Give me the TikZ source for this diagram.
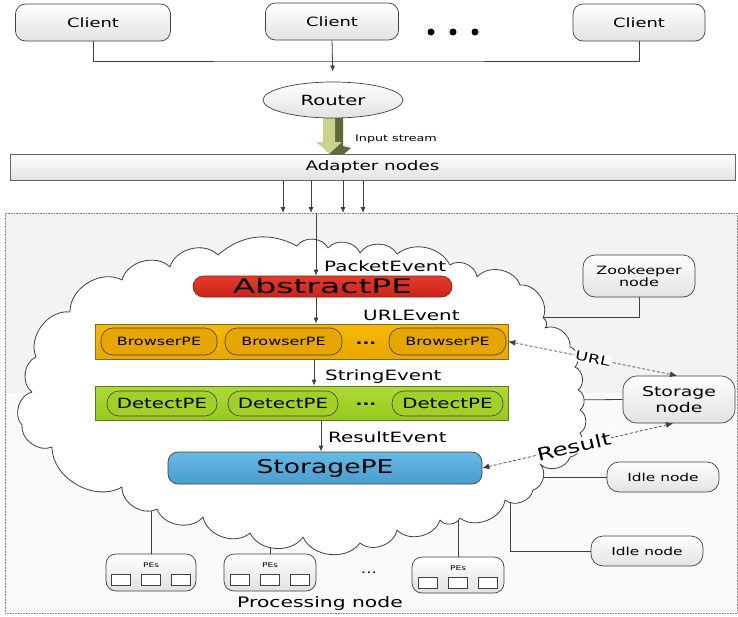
\documentclass[tikz,border=0pt]{standalone}
\usepackage{fontspec}
\setmainfont{DejaVu Sans}[FakeStretch=1.4]
\usetikzlibrary{arrows.meta,shapes.geometric,calc}
\definecolor{edge}{HTML}{404040}
\definecolor{boxbot}{HTML}{E2E2E2}
\definecolor{bggray}{HTML}{F3F3F3}
\definecolor{bglight}{HTML}{FAFAFA}
\definecolor{redtop}{HTML}{E23C2E}
\definecolor{redbot}{HTML}{CB2416}
\definecolor{redline}{HTML}{8A1C12}
\definecolor{ortop}{HTML}{F6B900}
\definecolor{orbot}{HTML}{E9A600}
\definecolor{orin}{HTML}{E7A500}
\definecolor{orline}{HTML}{7D6A3A}
\definecolor{grtop}{HTML}{AEDA36}
\definecolor{grbot}{HTML}{99C920}
\definecolor{grin}{HTML}{A2CF28}
\definecolor{grline}{HTML}{5A7A20}
\definecolor{bltop}{HTML}{68B9E5}
\definecolor{blbot}{HTML}{4A9CCE}
\definecolor{arrlight}{HTML}{C9D18C}
\definecolor{arrdark}{HTML}{5C6A39}
\newcommand{\fsz}[2]{\fontsize{#1}{#2}\selectfont}
\begin{document}
\begin{tikzpicture}[x=1pt,y=1pt,
  box/.style={draw=edge, line width=0.7pt, rounded corners=10pt, top color=white, bottom color=boxbot, inner sep=0pt, align=center},
  arr/.style={draw=edge, line width=0.8pt, -{Latex[length=6pt,width=5pt]}},
  conn/.style={draw=edge, line width=0.8pt},
  dasharr/.style={draw=edge, line width=0.7pt, densely dashed, {Latex[length=7pt,width=6pt]}-{Latex[length=7pt,width=6pt]}},
  lbl/.style={inner sep=0pt, anchor=west},
  pill/.style={draw=edge, line width=0.6pt, rounded corners=12pt, inner sep=0pt}
]
\fill[white] (0,0) rectangle (738,-616);
\useasboundingbox (0,0) rectangle (738,-616);

% background dotted area
\fill[bggray] (5,-213) rectangle (737,-393);
\fill[bglight] (5,-393) rectangle (737,-613);
\draw[gray, densely dotted, line width=0.6pt] (5,-213) rectangle (737,-613);

% input stream 3D arrow
\fill[arrdark] (323,-108) -- (335,-108) -- (343,-114) -- (343,-146) -- (351,-148) -- (337,-160) -- (325,-149) -- (317,-142) -- (323,-142) -- cycle;
\fill[arrlight] (323,-108) -- (335,-108) -- (335,-142) -- (342,-142) -- (329,-154) -- (317,-142) -- (323,-142) -- cycle;

% top nodes
\node[box, minimum width=155pt, minimum height=37pt, font=\fsz{12.8}{15}] (c1) at (93,-22.5) {Client};
\node[box, minimum width=133pt, minimum height=37pt, font=\fsz{12.8}{15}] (c2) at (332,-21.5) {Client};
\node[box, minimum width=132pt, minimum height=37pt, font=\fsz{12.8}{15}] (c3) at (639,-22.5) {Client};
\fill[black] (431,-32) circle (3.5) (453,-32) circle (3.5) (475,-32) circle (3.5);
\node[ellipse, draw=edge, line width=0.7pt, top color=white, bottom color=boxbot, minimum width=140pt, minimum height=36pt, inner sep=0pt, font=\fsz{14}{16}] (router) at (333,-100) {Router};
\node[draw=edge!80, line width=0.6pt, top color=white, bottom color=boxbot, minimum width=725pt, minimum height=26pt, inner sep=0pt, font=\fsz{13.1}{15}] (adapter) at (372.5,-167) {Adapter nodes};
\node[lbl, font=\fsz{9.1}{11}] (instream) at (355,-139) {Input stream};

\coordinate (jn) at (332,-61);
\draw[conn] (c1.south) |- (jn) -| (c3.south);
\draw[arr, shorten >=10pt] (c2.south) -- (router.north);
\foreach \x in {283,311,343,363} {
  \coordinate (t\x) at (\x,-213);
  \draw[arr] (adapter.south -| t\x) -- (t\x);
}

% outer nodes
\node[box, rounded corners=12pt, minimum width=112pt, minimum height=42pt, font=\fsz{11.4}{12.5}] (zk) at (639,-276) {Zookeeper\\node};
\node[box, rounded corners=14pt, minimum width=112pt, minimum height=47pt, font=\fsz{13.5}{16}] (sn) at (679,-399.5) {Storage\\node};
\node[box, rounded corners=12pt, minimum width=112pt, minimum height=30pt, font=\fsz{11}{13}] (idle1) at (663,-477) {Idle node};
\node[box, rounded corners=12pt, minimum width=112pt, minimum height=30pt, font=\fsz{11}{13}] (idle2) at (647,-551) {Idle node};
\node[box, minimum width=90pt, minimum height=37pt] (pes1) at (151,-572.5) {};
\node[box, minimum width=92pt, minimum height=37pt] (pes2) at (270,-572.5) {};
\node[box, minimum width=92pt, minimum height=36pt] (pes3) at (458,-575) {};
\foreach \p in {pes1,pes2,pes3} {
  \node[font=\fsz{6.5}{7}, inner sep=0pt] (\p-l) at ($(\p.center)+(0,7)$) {PEs};
  \foreach \dx in {-30,0,30}
    \draw[edge, line width=0.6pt, fill=white] ($(\p.center)+(\dx-9.5,-2)$) rectangle ++(19,-11);
}
\node[font=\fsz{12}{13}] (pdots) at (369,-573) {...};
\node[font=\fsz{14.5}{16}] (proc) at (320,-603) {Processing node};

% connectors into the cloud (drawn under it)
\coordinate (zkend) at (525,-317);
\draw[conn] (zk.south) |- (zkend);
\coordinate (snend) at (560,-400);
\draw[conn] (sn.west) -- (snend);
\coordinate (i1end) at (525,-477);
\draw[conn] (idle1.west) -- (i1end);
\coordinate (i2end) at (510,-490);
\draw[conn] (idle2.west) -| (i2end);
\coordinate (p1end) at (151,-495);
\draw[conn] (pes1.north) -- (p1end);
\coordinate (p2end) at (270,-530);
\draw[conn] (pes2.north) -- (p2end);
\coordinate (p3end) at (458,-505);
\draw[conn] (pes3.north) -- (p3end);

% cloud
\draw[edge, line width=0.8pt, fill=white, line join=round]
 (157,-509) to[bend left=60] (122,-487) to[bend left=60] (52,-447) to[bend left=60] (22,-425)
 to[bend left=60] (32,-392) to[bend left=60] (36,-357) to[bend left=60] (70,-312)
 to[bend left=60] (122,-280) to[bend left=60] (170,-267) to[bend left=60] (218,-255)
 to[bend left=35] (297,-246) to[bend left=60] (328,-248) to[bend left=60] (360,-253)
 to[bend left=60] (397,-254) to[bend left=50] (450,-265) to[bend left=60] (477,-277)
 to[bend left=60] (520,-285) to[bend left=60] (543,-318) to[bend left=60] (545,-328)
 to[bend left=60] (570,-347) to[bend left=60] (575,-367) to[bend left=60] (578,-390)
 to[bend left=60] (580,-410) to[bend left=60] (580,-433) to[bend left=60] (570,-457)
 to[bend left=60] (540,-464) to[bend left=60] (533,-490) to[bend left=60] (505,-500)
 to[bend left=60] (460,-518) to[bend left=60] (440,-520) to[bend left=60] (397,-530)
 to[bend left=60] (360,-543) to[bend left=60] (303,-537) to[bend left=60] (250,-533)
 to[bend left=60] (203,-517) to[bend left=60] (157,-509) -- cycle;

% inner nodes
\node[draw=redline, line width=0.6pt, top color=redtop, bottom color=redbot, rounded corners=10.5pt, minimum width=259pt, minimum height=21pt, inner sep=0pt, font=\fsz{20}{22}] (abs) at (322.5,-286.5) {\scalebox{1.18}[1]{AbstractPE}};

\node[draw=orline, line width=0.7pt, top color=ortop, bottom color=orbot, minimum width=413pt, minimum height=35pt, inner sep=0pt] (bbar) at (301.5,-341.5) {};
\node[pill, fill=orin, minimum width=116pt, minimum height=27pt, font=\fsz{11.4}{13}] (bp1) at (159,-341.5) {BrowserPE};
\node[pill, fill=orin, minimum width=117pt, minimum height=27pt, font=\fsz{11.4}{13}] (bp2) at (283.5,-341.5) {BrowserPE};
\node[pill, fill=orin, minimum width=117pt, minimum height=27pt, font=\fsz{11.4}{13}] (bp3) at (447.5,-341.5) {BrowserPE};
\node[font=\bfseries\fsz{13}{14}] (bdots) at (366,-343) {...};

\node[draw=grline, line width=0.7pt, top color=grtop, bottom color=grbot, minimum width=413pt, minimum height=34pt, inner sep=0pt] (dbar) at (301.5,-403) {};
\node[pill, fill=grin, minimum width=110pt, minimum height=25pt, font=\fsz{14.1}{15}] (dp1) at (162,-403.5) {DetectPE};
\node[pill, fill=grin, minimum width=110pt, minimum height=25pt, font=\fsz{14.1}{15}] (dp2) at (283,-403.5) {DetectPE};
\node[pill, fill=grin, minimum width=111pt, minimum height=25pt, font=\fsz{14.1}{15}] (dp3) at (447.5,-403.5) {DetectPE};
\node[font=\bfseries\fsz{13}{14}] (ddots) at (366,-404) {...};

\node[draw=edge, line width=0.7pt, top color=bltop, bottom color=blbot, rounded corners=10pt, minimum width=314pt, minimum height=32pt, inner sep=0pt, font=\fsz{19}{21}] (spe) at (325,-468) {StoragePE};

\node[lbl, font=\fsz{14.2}{16}] (pev) at (324,-266) {PacketEvent};
\node[lbl, font=\fsz{14.2}{16}] (uev) at (363,-315) {URLEvent};
\node[lbl, font=\fsz{14.2}{16}] (sev) at (325,-377) {StringEvent};
\node[lbl, font=\fsz{14.2}{16}] (rev) at (328,-437) {ResultEvent};

% flow arrows
\coordinate (entry) at (316,-213);
\coordinate (ax2) at (314,0);
\coordinate (ax3) at (321,0);
\draw[arr] (entry) -- (abs.north -| entry);
\draw[arr] (abs.south -| entry) -- (bbar.north -| entry);
\draw[arr] (bbar.south -| ax2) -- (dbar.north -| ax2);
\draw[arr] (dbar.south -| ax3) -- (spe.north -| ax3);

% storage interactions
\draw[dasharr] ([xshift=2pt]bp3.east) -- node[sloped, fill=white, inner sep=1pt, font=\fsz{12.6}{14}] (urll) {URL} ([xshift=-2pt]sn.north);
\draw[dasharr] (spe.east) -- node[pos=0.48, sloped, fill=white, inner sep=0.5pt, font=\fsz{17.5}{19}] (resl) {Result} ([xshift=-6pt]sn.south);
\end{tikzpicture}
\end{document}
